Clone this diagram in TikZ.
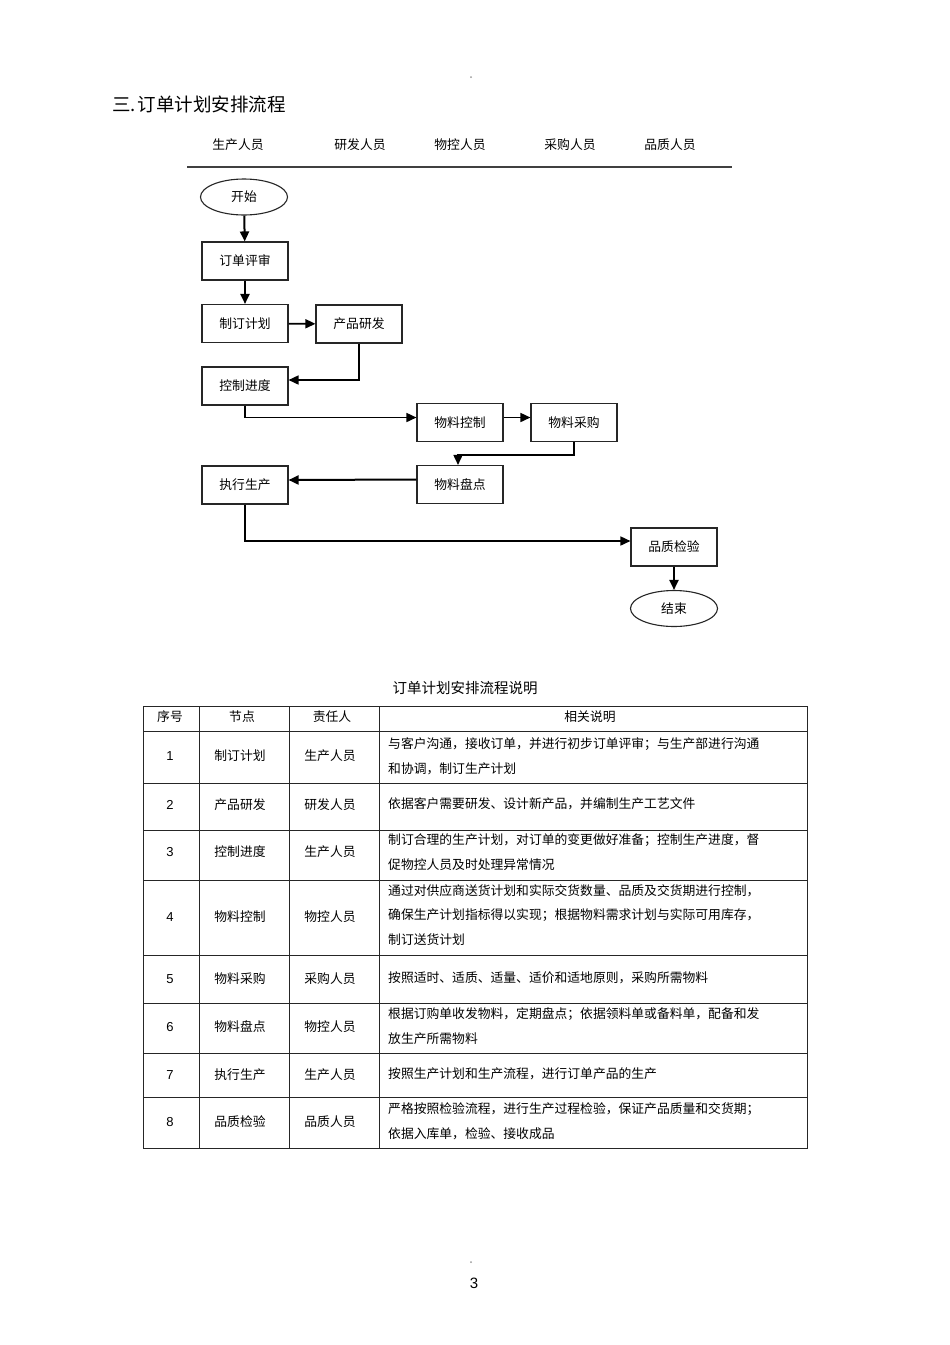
\documentclass[tikz,border=0pt]{standalone}
\usepackage{fontspec}
\setmainfont{Noto Sans CJK SC}
\newfontfamily\numfont{Liberation Sans}
\usetikzlibrary{arrows.meta,shapes.geometric}
\tikzset{
  box/.style={draw=black!85,line width=1.1pt,minimum width=86pt,minimum height=38pt,inner sep=0pt,font=\fontsize{12.8}{14}\selectfont},
  term/.style={draw=black!85,ellipse,line width=1.1pt,minimum width=87pt,minimum height=36pt,inner sep=0pt,font=\fontsize{12.8}{14}\selectfont},
  flow/.style={line width=1.6pt,-{Triangle[length=10pt,width=9pt]}},
  vflow/.style={line width=2pt,-{Triangle[length=10pt,width=9pt]}},
  hdr/.style={font=\fontsize{12.8}{14}\selectfont},
  cell/.style={font=\fontsize{12.8}{14}\selectfont,inner sep=0pt},
  num/.style={font=\numfont\fontsize{13}{14}\selectfont,inner sep=0pt},
  desc/.style={font=\fontsize{12.8}{24.6}\selectfont,inner sep=0pt,anchor=west,align=left},
  grid/.style={line width=0.9pt,draw=black!85}
}
\begin{document}
\begin{tikzpicture}[x=1pt,y=-1pt]
\useasboundingbox (0,0) rectangle (950,1345);
\fill[white] (0,0) rectangle (950,1345);
% small marks
\fill[black!40] (471,77) circle (1pt);
\fill[black!40] (471,1262) circle (1pt);
% title
\node[anchor=west,inner sep=0pt,font=\fontsize{18.5}{20}\selectfont] (title) at (112,104) {三.\hspace{2pt}订单计划安排流程};
% lane headers
\node[hdr] (h1) at (238,145) {生产人员};
\node[hdr] (h2) at (360,145) {研发人员};
\node[hdr] (h3) at (460,145) {物控人员};
\node[hdr] (h4) at (570,145) {采购人员};
\node[hdr] (h5) at (670,145) {品质人员};
\coordinate (hl1) at (187,167);
\coordinate (hl2) at (732,167);
\draw[line width=1.4pt,black!75] (hl1) -- (hl2);
% flow nodes
\node[term] (start) at (244,197) {开始};
\node[box] (ps) at (245,261) {订单评审};
\node[box] (zd) at (245,323.5) {制订计划};
\node[box] (yf) at (359,324) {产品研发};
\node[box] (kz) at (245,386) {控制进度};
\node[box] (wk) at (460,422.5) {物料控制};
\node[box] (cg) at (574,422.5) {物料采购};
\node[box] (pd) at (460,484.5) {物料盘点};
\node[box] (zx) at (245,485) {执行生产};
\node[box] (pj) at (674,547) {品质检验};
\node[term] (end) at (674,608.5) {结束};
% connectors
\draw[vflow] (start) -- (ps);
\draw[vflow] (ps) -- (zd);
\draw[flow] (zd) -- (yf);
\draw[flow] (yf.south) |- ([yshift=6pt]kz.east);
\draw[flow] (kz.south) |- ([yshift=5pt]wk.west);
\draw[flow] ([yshift=5pt]wk.east) -- ([yshift=5pt]cg.west);
\draw[flow] (cg.south) -- ++(0,13) -| ([xshift=-2pt]pd.north);
\draw[vflow] ([yshift=5pt]pd.west) -- ([yshift=5pt]zx.east);
\draw[flow] (zx.south) |- ([yshift=6pt]pj.west);
\draw[vflow] (pj) -- (end);
% table title
\node[font=\fontsize{14.5}{16}\selectfont] (ttitle) at (465,688) {订单计划安排流程说明};
% table grid
\draw[grid] (143,706) rectangle (807,1148);
\foreach \yy in {731,783,830,880,955,1003,1053,1097} \draw[grid] (143,\yy) -- (807,\yy);
\foreach \xx in {199,289,379} \draw[grid] (\xx,706) -- (\xx,1148);
% header row
\node[cell] (c0a) at (170,717) {序号};
\node[cell] (c0b) at (242,717) {节点};
\node[cell] (c0c) at (332,717) {责任人};
\node[cell] (c0d) at (590,717) {相关说明};
% rows
\node[num] (n1) at (170,756) {1};
\node[cell] (a1) at (240,756) {制订计划};
\node[cell] (b1) at (330,756) {生产人员};
\node[desc] (d1) at (388,756) {与客户沟通，接收订单，并进行初步订单评审；与生产部进行沟通\\和协调，制订生产计划};
\node[num] (n2) at (170,805) {2};
\node[cell] (a2) at (240,805) {产品研发};
\node[cell] (b2) at (330,805) {研发人员};
\node[desc] (d2) at (388,804) {依据客户需要研发、设计新产品，并编制生产工艺文件};
\node[num] (n3) at (170,852) {3};
\node[cell] (a3) at (240,852) {控制进度};
\node[cell] (b3) at (330,852) {生产人员};
\node[desc] (d3) at (388,852) {制订合理的生产计划，对订单的变更做好准备；控制生产进度，督\\促物控人员及时处理异常情况};
\node[num] (n4) at (170,917) {4};
\node[cell] (a4) at (240,917) {物料控制};
\node[cell] (b4) at (330,917) {物控人员};
\node[desc] (d4) at (388,915) {通过对供应商送货计划和实际交货数量、品质及交货期进行控制，\\确保生产计划指标得以实现；根据物料需求计划与实际可用库存，\\制订送货计划};
\node[num] (n5) at (170,979) {5};
\node[cell] (a5) at (240,979) {物料采购};
\node[cell] (b5) at (330,979) {采购人员};
\node[desc] (d5) at (388,978) {按照适时、适质、适量、适价和适地原则，采购所需物料};
\node[num] (n6) at (170,1027) {6};
\node[cell] (a6) at (240,1027) {物料盘点};
\node[cell] (b6) at (330,1027) {物控人员};
\node[desc] (d6) at (388,1026) {根据订购单收发物料，定期盘点；依据领料单或备料单，配备和发\\放生产所需物料};
\node[num] (n7) at (170,1075) {7};
\node[cell] (a7) at (240,1075) {执行生产};
\node[cell] (b7) at (330,1075) {生产人员};
\node[desc] (d7) at (388,1074) {按照生产计划和生产流程，进行订单产品的生产};
\node[num] (n8) at (170,1122) {8};
\node[cell] (a8) at (240,1122) {品质检验};
\node[cell] (b8) at (330,1122) {品质人员};
\node[desc] (d8) at (388,1121) {严格按照检验流程，进行生产过程检验，保证产品质量和交货期；\\依据入库单，检验、接收成品};
% page number
\node[font=\numfont\fontsize{15}{16}\selectfont] (pg) at (474,1283) {3};
\end{tikzpicture}
\end{document}
